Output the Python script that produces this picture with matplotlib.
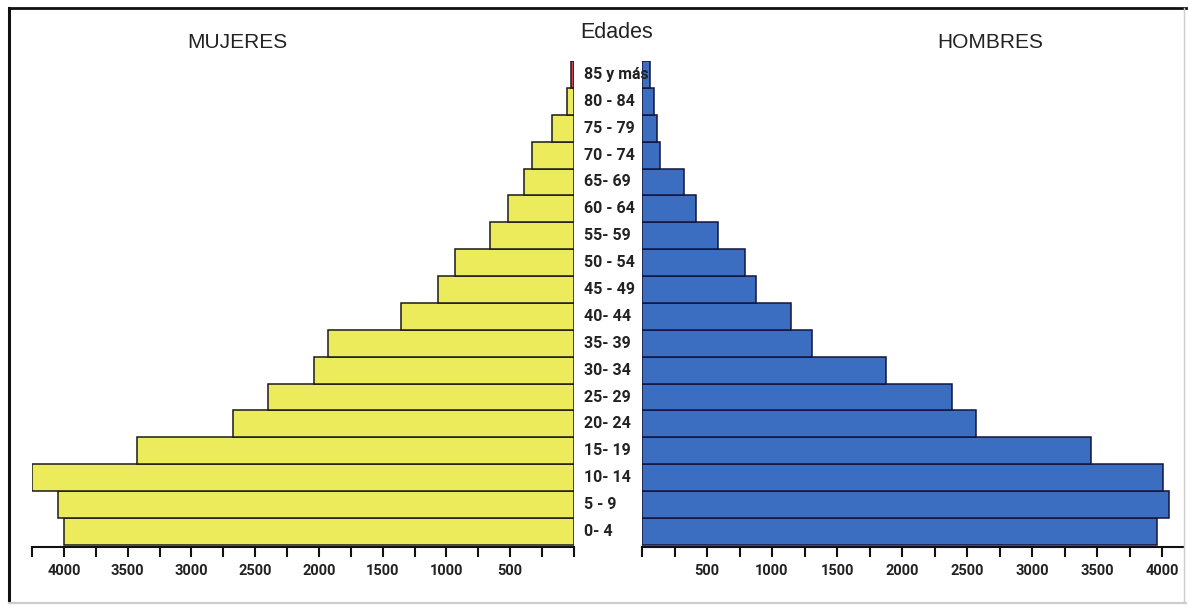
import matplotlib
matplotlib.use('Agg')
import matplotlib.pyplot as plt
from matplotlib.ticker import MultipleLocator, FuncFormatter
from matplotlib import transforms, font_manager
from matplotlib.lines import Line2D

# ---------------- data ----------------
age_groups = ["0- 4", "5 - 9", "10- 14", "15- 19", "20- 24", "25- 29", "30- 34",
              "35- 39", "40- 44", "45 - 49", "50 - 54", "55- 59", "60 - 64",
              "65- 69", "70 - 74", "75 - 79", "80 - 84", "85 y más"]
mujeres = [4000, 4050, 4250, 3430, 2675, 2400, 2040, 1930, 1360, 1070, 935,
           660, 520, 390, 330, 170, 55, 20]
hombres = [3960, 4050, 4010, 3450, 2570, 2385, 1875, 1310, 1145, 875, 790,
           585, 415, 325, 140, 115, 95, 65]
tick_values = [500, 1000, 1500, 2000, 2500, 3000, 3500, 4000]

title_center = "Edades"
title_left = "MUJERES"
title_right = "HOMBRES"

# ---------------- fonts ----------------
names = {f.name for f in font_manager.fontManager.ttflist}
narrow = "Roboto" if "Roboto" in names else "DejaVu Sans"
sans = "Liberation Sans" if "Liberation Sans" in names else "DejaVu Sans"

W, H = 1188, 607
fig = plt.figure(figsize=(W / 100, H / 100), dpi=100)
fig.patch.set_facecolor("white")

def fx(px):
    return px / W

def fy(py):
    return 1 - py / H

ax_bottom = fy(547)
ax_h = 486 / H
axL = fig.add_axes([fx(32), ax_bottom, fx(574) - fx(32), ax_h])
axR = fig.add_axes([fx(642), ax_bottom, fx(1183) - fx(642), ax_h])

yellow = "#ECEB5C"
blue = "#3B6EC0"
red = "#E0404C"
ypos = list(range(len(age_groups)))

colors_m = [yellow] * len(mujeres)
colors_m[-1] = red
axL.barh(ypos, mujeres, height=1.0, color=colors_m, edgecolor="#1a1a1a",
         linewidth=1.1)
axR.barh(ypos, hombres, height=1.0, color=blue, edgecolor="#14143c",
         linewidth=1.1)

axL.set_xlim(4250, 0)
axR.set_xlim(0, 4160)
for ax in (axL, axR):
    ax.set_ylim(-0.58, len(age_groups) - 0.5)
    ax.set_yticks([])
    for s in ("top", "left", "right"):
        ax.spines[s].set_visible(False)
    ax.spines["bottom"].set_linewidth(1.5)
    ax.spines["bottom"].set_color("#111111")
    ax.xaxis.set_major_locator(MultipleLocator(500))
    ax.xaxis.set_minor_locator(MultipleLocator(250))
    ax.xaxis.set_major_formatter(FuncFormatter(
        lambda v, p: f"{int(round(v))}" if round(v) in tick_values else ""))
    ax.tick_params(axis="x", which="both", direction="out", length=7,
                   width=1.5, color="#111111", pad=5)
    ax.tick_params(axis="x", which="major", labelsize=10.5)
    for lab in ax.get_xticklabels():
        lab.set_fontfamily(narrow)
        lab.set_fontweight("bold")
        lab.set_color("#222222")
    ax.set_facecolor("none")

# age labels in the central column
trans = transforms.blended_transform_factory(fig.transFigure, axL.transData)
for i, lab in enumerate(age_groups):
    fig.text(fx(584), i, lab, transform=trans, ha="left", va="center",
             fontsize=11.5, fontweight="bold", family=narrow, color="#222222")

fig.text(fx(617), fy(32), title_center, ha="center", va="center",
         fontsize=15.5, family=sans, color="#222222")
fig.text(fx(237), fy(43), title_left, ha="center", va="center",
         fontsize=15, family=sans, color="#222222")
fig.text(fx(990), fy(43), title_right, ha="center", va="center",
         fontsize=15, family=sans, color="#222222")

# outer frame
fig.add_artist(Line2D([fx(9), fx(9)], [fy(8), fy(602)], transform=fig.transFigure,
                      color="#111111", lw=2.2))
fig.add_artist(Line2D([fx(9), fx(1186)], [fy(8), fy(8)], transform=fig.transFigure,
                      color="#111111", lw=2.0))
fig.add_artist(Line2D([fx(9), fx(1186)], [fy(603), fy(603)], transform=fig.transFigure,
                      color="#cccccc", lw=1.5))
fig.add_artist(Line2D([fx(1184), fx(1184)], [fy(8), fy(603)], transform=fig.transFigure,
                      color="#cccccc", lw=1.0))

fig.savefig("out.png", dpi=100, facecolor="white")
